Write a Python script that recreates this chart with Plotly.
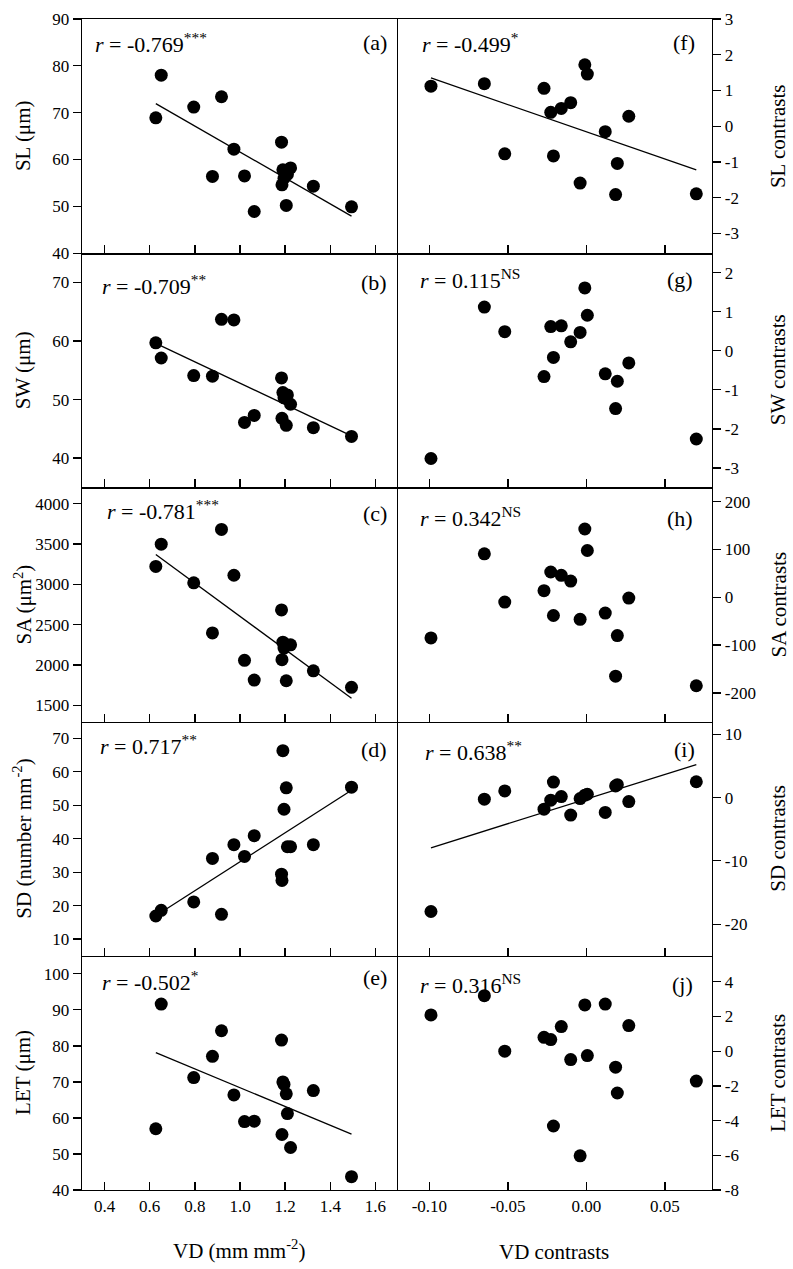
import plotly.graph_objects as go
from plotly.subplots import make_subplots

# ---------------- data ----------------
VD = [0.627, 0.651, 0.795, 0.878, 0.918, 0.973, 1.020, 1.063, 1.184, 1.186,
      1.190, 1.195, 1.205, 1.210, 1.224, 1.325, 1.494]
SL = [68.9, 78.0, 71.2, 56.4, 73.4, 62.2, 56.5, 48.9, 63.7, 54.6,
      57.8, 56.0, 50.2, 56.8, 58.2, 54.3, 49.9]
SW = [59.7, 57.1, 54.1, 54.0, 63.7, 63.6, 46.1, 47.3, 53.7, 46.8,
      51.2, 50.3, 45.6, 50.8, 49.2, 45.2, 43.7]
SA = [3222, 3497, 3019, 2398, 3680, 3112, 2059, 1814, 2683, 2067,
      2284, 2210, 1806, 2250, 2251, 1929, 1724]
SD = [16.9, 18.6, 21.1, 34.1, 17.4, 38.2, 34.7, 40.9, 29.4, 27.5,
      66.3, 48.8, 55.2, 37.6, 37.6, 38.2, 55.4]
LET = [57.0, 91.6, 71.2, 77.1, 84.2, 66.4, 59.0, 59.1, 81.6, 55.4,
       70.0, 69.3, 66.7, 61.2, 51.8, 67.6, 43.7]

VD_con = [-0.099, -0.065, -0.052, -0.027, -0.0227, -0.021, -0.016, -0.010,
          -0.004, -0.001, 0.0006, 0.012, 0.0186, 0.0197, 0.027, 0.070]
SL_con = [1.12, 1.19, -0.77, 1.06, 0.39, -0.83, 0.50, 0.66,
          -1.59, 1.72, 1.46, -0.15, -1.91, -1.04, 0.28, -1.89]
SW_con = [-2.76, 1.12, 0.49, -0.66, 0.62, -0.17, 0.64, 0.23,
          0.47, 1.61, 0.91, -0.59, -1.48, -0.78, -0.31, -2.26]
SA_con = [-85, 91, -10, 14, 53, -38, 46, 34,
          -46, 143, 98, -33, -165, -80, -1.5, -185]
SD_con = [-18.0, -0.26, 1.04, -1.83, -0.42, 2.45, 0.16, -2.77,
          -0.16, 0.37, 0.52, -2.35, 1.83, 2.03, -0.63, 2.5]
LET_con = [2.09, 3.2, 0.0, 0.8, 0.67, -4.31, 1.42, -0.48,
           -6.03, 2.67, -0.25, 2.72, -0.92, -2.41, 1.48, -1.72]

# regression lines (slope, intercept); None = no line drawn
fit_left = [(-27.7, 89.3), (-18.2, 71.0), (-2053, 4656), (43.3, -10.2), (-26.1, 94.5)]
fit_right = [(-15.22, -0.156), None, None, (77.8, -0.23), None]

r_left = ["-0.769<sup>***</sup>", "-0.709<sup>**</sup>", "-0.781<sup>***</sup>",
          "0.717<sup>**</sup>", "-0.502<sup>*</sup>"]
r_right = ["-0.499<sup>*</sup>", "0.115<sup>NS</sup>", "0.342<sup>NS</sup>",
           "0.638<sup>**</sup>", "0.316<sup>NS</sup>"]
labels_left = ["(a)", "(b)", "(c)", "(d)", "(e)"]
labels_right = ["(f)", "(g)", "(h)", "(i)", "(j)"]

titles_left = ["SL (μm)", "SW (μm)", "SA (μm<sup>2</sup>)",
               "SD (number mm<sup>-2</sup>)", "LET (μm)"]
titles_right = ["SL contrasts", "SW contrasts", "SA contrasts",
                "SD contrasts", "LET contrasts"]
title_x_left = "VD (mm mm<sup>-2</sup>)"
title_x_right = "VD contrasts"

yt_left = [[40, 50, 60, 70, 80, 90], [40, 50, 60, 70],
           [1500, 2000, 2500, 3000, 3500, 4000],
           [10, 20, 30, 40, 50, 60, 70], [40, 50, 60, 70, 80, 90, 100]]
yt_right = [[-3, -2, -1, 0, 1, 2, 3], [-3, -2, -1, 0, 1, 2],
            [-200, -100, 0, 100, 200], [-20, -10, 0, 10],
            [-8, -6, -4, -2, 0, 2, 4]]
xt_left = [0.4, 0.6, 0.8, 1.0, 1.2, 1.4, 1.6]
xt_left_text = ["0.4", "0.6", "0.8", "1.0", "1.2", "1.4", "1.6"]
xt_right = [-0.10, -0.05, 0.00, 0.05]
xt_right_text = ["-0.10", "-0.05", "0.00", "0.05"]

# ---------------- layout constants ----------------
yr_left = [[40, 90], [35, 75], [1300, 4200], [5, 75], [40, 105]]
yr_right = [[-3.55, 3.0], [-3.5, 2.5], [-260, 230], [-25, 12], [-8, 5.5]]
# text positions in page pixels
r_pos_left = [(93, 34), (100, 278), (105, 505), (98, 742), (100, 979)]
r_pos_right = [(420, 34), (418, 272), (418, 512), (423, 748), (418, 982)]
lab_pos_left = [(389, 34), (389, 276), (389, 508), (389, 746), (389, 976)]
lab_pos_right = [(697, 34), (695, 273), (695, 513), (697, 746), (695, 983)]

FONT = "Liberation Serif, Times New Roman, serif"
W, H = 793, 1269
L, R, T, B = 82, 712, 10, 1190  # plot area in pixels


def px(xp, yp):
    return (xp - L) / (R - L), (B - yp) / (B - T)


left_y = [SL, SW, SA, SD, LET]
right_y = [SL_con, SW_con, SA_con, SD_con, LET_con]

fig = make_subplots(rows=5, cols=2, horizontal_spacing=0, vertical_spacing=0,
                    column_widths=[316, 314])

marker = dict(color="black", size=13)
line_style = dict(color="black", width=1.3)
for i in range(5):
    row = i + 1
    fig.add_trace(go.Scatter(x=VD, y=left_y[i], mode="markers", marker=marker,
                             showlegend=False), row=row, col=1)
    fig.add_trace(go.Scatter(x=VD_con, y=right_y[i], mode="markers", marker=marker,
                             showlegend=False), row=row, col=2)
    if fit_left[i] is not None:
        s, b = fit_left[i]
        xs = [min(VD), max(VD)]
        fig.add_trace(go.Scatter(x=xs, y=[s * v + b for v in xs], mode="lines",
                                 line=line_style, showlegend=False), row=row, col=1)
    if fit_right[i] is not None:
        s, b = fit_right[i]
        xs = [min(VD_con), max(VD_con)]
        fig.add_trace(go.Scatter(x=xs, y=[s * v + b for v in xs], mode="lines",
                                 line=line_style, showlegend=False), row=row, col=2)

    common = dict(showline=True, linecolor="black", linewidth=1.4,
                  showgrid=False, zeroline=False, tickcolor="black",
                  ticklen=8, tickwidth=1.3, ticklabeloverflow="allow",
                  tickfont=dict(family=FONT, size=17, color="black"))
    fig.update_xaxes(range=[0.3, 1.7], tickvals=xt_left, ticktext=xt_left_text,
                     ticks="inside", mirror=(row == 1),
                     showticklabels=(row == 5), row=row, col=1, **common)
    fig.update_xaxes(range=[-0.12, 0.08], tickvals=xt_right, ticktext=xt_right_text,
                     ticks="inside", mirror=(row == 1),
                     showticklabels=(row == 5), row=row, col=2, **common)
    fig.update_yaxes(range=yr_left[i], tickvals=yt_left[i],
                     ticktext=[str(v) for v in yt_left[i]],
                     ticks="outside", mirror=False, row=row, col=1, **common)
    fig.update_yaxes(range=yr_right[i], tickvals=yt_right[i],
                     ticktext=[str(v) for v in yt_right[i]],
                     ticks="outside", side="right", mirror=True,
                     row=row, col=2, **common)

annotations = []


def add_text(text, xp, yp, size, xanchor="left", angle=0):
    x, y = px(xp, yp)
    annotations.append(dict(text=text, x=x, y=y, xref="paper", yref="paper",
                            xanchor=xanchor, yanchor="middle", showarrow=False,
                            textangle=angle,
                            font=dict(family=FONT, size=size, color="black")))


for i in range(5):
    add_text("<i>r</i> = " + r_left[i], r_pos_left[i][0], r_pos_left[i][1], 22)
    add_text("<i>r</i> = " + r_right[i], r_pos_right[i][0], r_pos_right[i][1], 22)
    add_text(labels_left[i], lab_pos_left[i][0], lab_pos_left[i][1], 22, "right")
    add_text(labels_right[i], lab_pos_right[i][0], lab_pos_right[i][1], 22, "right")
    yc = T + (B - T) * (i + 0.5) / 5
    add_text(titles_left[i], 23, yc, 21, "center", -90)
    add_text(titles_right[i], 778, yc, 21, "center", -90)

add_text(title_x_left, 239, 1250, 21, "center")
add_text(title_x_right, 554, 1252, 21, "center")

fig.update_layout(width=W, height=H,
                  margin=dict(l=L, r=W - R, t=T, b=H - B),
                  font=dict(family=FONT, color="black"),
                  paper_bgcolor="white", plot_bgcolor="white",
                  hovermode=False,
                  annotations=annotations, showlegend=False)

fig.write_html("out.html",
               config={"displayModeBar": False, "staticPlot": True},
               post_script="document.body.style.margin='0';"
                           "document.body.style.overflow='hidden';")
